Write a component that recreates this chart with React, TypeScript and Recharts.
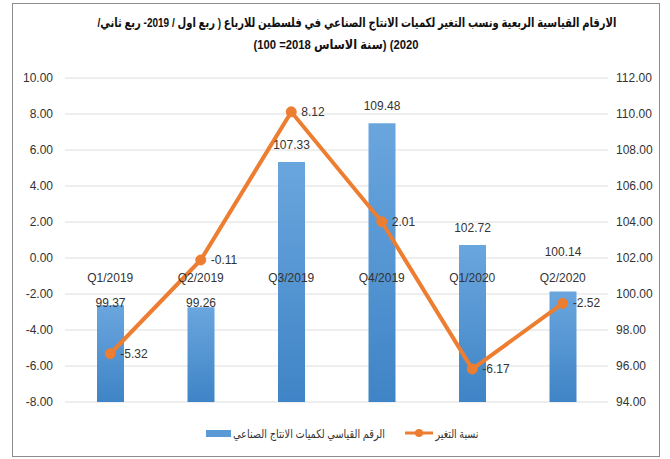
import React from 'react'
import {
  ComposedChart,
  Bar,
  Line,
  XAxis,
  YAxis,
  CartesianGrid,
  LabelList,
} from 'recharts'

const categories = ['Q1/2019', 'Q2/2019', 'Q3/2019', 'Q4/2019', 'Q1/2020', 'Q2/2020']
const indexValues = [99.37, 99.26, 107.33, 109.48, 102.72, 100.14]
const changeRates = [-5.32, -0.11, 8.12, 2.01, -6.17, -2.52]
const leftTicks = [-8, -6, -4, -2, 0, 2, 4, 6, 8, 10]
const rightTicks = [94, 96, 98, 100, 102, 104, 106, 108, 110, 112]

const titleLine1 =
  'الارقام القياسية الربعية ونسب التغير لكميات الانتاج الصناعي في فلسطين للارباع ( ربع اول / 2019- ربع ثاني/'
const titleLine2 = '2020) (سنة الاساس 2018= 100)'
const barName = 'الرقم القياسي لكميات الانتاج الصناعي'
const lineName = 'نسبة التغير'

const chartData = categories.map((c, i) => ({
  quarter: c,
  index: indexValues[i],
  change: changeRates[i],
}))

const W = 670
const H = 459
const PLOT_TOP = 78
const PLOT_BOTTOM = 402
const PLOT_LEFT = 65
const PLOT_RIGHT = 608
const LEFT_MIN = -8
const LEFT_MAX = 10
const XAXIS_H = 20
// where the left axis value 0 sits, the category labels hang from there
const ZERO_Y = PLOT_TOP + ((LEFT_MAX - 0) / (LEFT_MAX - LEFT_MIN)) * (PLOT_BOTTOM - PLOT_TOP)

const FONT = '"Liberation Sans", Arial, "DejaVu Sans", sans-serif'
const ORANGE = '#ED7D31'
const TEXT = '#333333'

const renderCategoryTick = (props: any) => {
  const { x, payload } = props
  return (
    <text x={x} y={ZERO_Y + 24} textAnchor="middle" fontSize={12} fill={TEXT} fontFamily={FONT}>
      {payload.value}
    </text>
  )
}

const BarValueLabel = (props: any) => {
  const { x, y, width, value } = props
  let base = y - 13
  const mid = base - 4
  if (mid > ZERO_Y + 8 && mid < ZERO_Y + 40) {
    base = y > ZERO_Y + 40 ? ZERO_Y + 49 : ZERO_Y - 2
  }
  return (
    <text x={x + width / 2} y={base} textAnchor="middle" fontSize={12} fill={TEXT} fontFamily={FONT}>
      {Number(value).toFixed(2)}
    </text>
  )
}

const LineValueLabel = (props: any) => {
  const { x, y, value } = props
  return (
    <text x={x + 10} y={y + 4} textAnchor="start" fontSize={12} fill={TEXT} fontFamily={FONT}>
      {Number(value).toFixed(2)}
    </text>
  )
}

export default function App() {
  return (
    <div style={{ position: 'absolute', left: 0, top: 0, width: W, height: H, background: '#fff' }}>
      <div
        style={{
          position: 'absolute',
          left: 12,
          top: 3,
          width: 646,
          height: 452,
          border: '1px solid #8c8c8c',
        }}
      />

      <div style={{ position: 'absolute', left: 0, top: 0 }}>
        <ComposedChart
          width={W}
          height={H}
          data={chartData}
          margin={{ top: PLOT_TOP, right: 0, left: 0, bottom: H - PLOT_BOTTOM - XAXIS_H }}
        >
          <defs>
            <linearGradient id="barFill" x1="0" y1="0" x2="0" y2="1">
              <stop offset="0%" stopColor="#6aa6de" />
              <stop offset="100%" stopColor="#3f84c6" />
            </linearGradient>
          </defs>
          <CartesianGrid yAxisId="left" vertical={false} stroke="#dedede" />
          <XAxis
            dataKey="quarter"
            axisLine={false}
            tickLine={false}
            height={XAXIS_H}
            tick={renderCategoryTick}
            interval={0}
          />
          <YAxis
            yAxisId="left"
            orientation="left"
            width={PLOT_LEFT}
            domain={[LEFT_MIN, LEFT_MAX]}
            ticks={leftTicks}
            interval={0}
            axisLine={false}
            tickLine={false}
            tickMargin={6}
            tickFormatter={(v: number) => v.toFixed(2)}
            tick={{ fontSize: 12, fill: TEXT, fontFamily: FONT }}
          />
          <YAxis
            yAxisId="right"
            orientation="right"
            width={W - PLOT_RIGHT}
            domain={[94, 112]}
            ticks={rightTicks}
            interval={0}
            axisLine={false}
            tickLine={false}
            tickMargin={2}
            tickFormatter={(v: number) => v.toFixed(2)}
            tick={{ fontSize: 12, fill: TEXT, fontFamily: FONT }}
          />
          <Bar
            yAxisId="right"
            dataKey="index"
            name={barName}
            fill="url(#barFill)"
            barSize={27}
            isAnimationActive={false}
          >
            <LabelList dataKey="index" content={<BarValueLabel />} />
          </Bar>
          <Line
            yAxisId="left"
            dataKey="change"
            name={lineName}
            stroke={ORANGE}
            strokeWidth={4}
            dot={{ r: 5, fill: ORANGE, stroke: ORANGE, strokeWidth: 1 }}
            isAnimationActive={false}
          >
            <LabelList dataKey="change" content={<LineValueLabel />} />
          </Line>
        </ComposedChart>
      </div>

      {/* title and legend: svg so the Arabic runs can be squeezed to the reference widths */}
      <svg
        width={W}
        height={H}
        style={{ position: 'absolute', left: 0, top: 0, pointerEvents: 'none' }}
        fontFamily={FONT}
      >
        <text
          x={357}
          y={27}
          direction="rtl"
          textAnchor="middle"
          fontSize={13}
          fontWeight="bold"
          fill="#111"
          textLength={519}
          lengthAdjust="spacingAndGlyphs"
        >
          {titleLine1}
        </text>
        <text
          x={336}
          y={49}
          direction="rtl"
          textAnchor="middle"
          fontSize={13}
          fontWeight="bold"
          fill="#111"
          textLength={165}
          lengthAdjust="spacingAndGlyphs"
        >
          {titleLine2}
        </text>

        <rect x={206} y={430} width={25} height={7} fill="#5b9bd5" />
        <text
          x={309}
          y={438}
          direction="rtl"
          textAnchor="middle"
          fontSize={12}
          fill={TEXT}
          textLength={152}
          lengthAdjust="spacingAndGlyphs"
        >
          {barName}
        </text>
        <line x1={405} y1={433} x2={433} y2={433} stroke={ORANGE} strokeWidth={3} />
        <circle cx={419} cy={433} r={4} fill={ORANGE} />
        <text
          x={457}
          y={438}
          direction="rtl"
          textAnchor="middle"
          fontSize={12}
          fill={TEXT}
          textLength={43}
          lengthAdjust="spacingAndGlyphs"
        >
          {lineName}
        </text>
      </svg>
    </div>
  )
}
